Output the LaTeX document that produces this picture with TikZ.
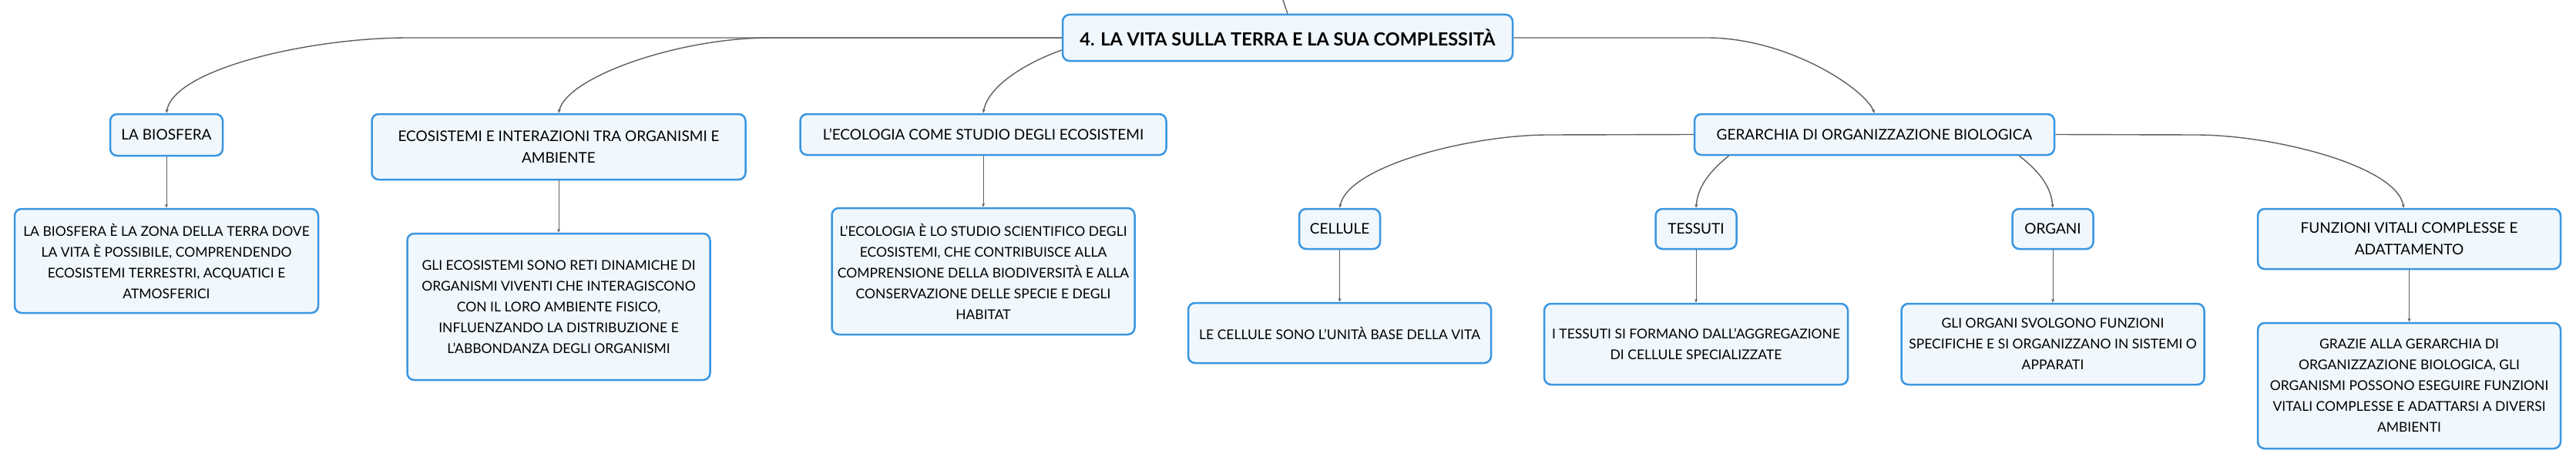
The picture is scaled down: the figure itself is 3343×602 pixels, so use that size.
\documentclass[tikz,border=0pt]{standalone}
\usepackage{fontspec}
\setmainfont{Lato}
\usetikzlibrary{arrows.meta}
\definecolor{mmblue}{RGB}{58,150,224}
\definecolor{mmfill}{RGB}{240,247,253}
\definecolor{mmgray}{RGB}{95,95,95}
\newcommand{\mmtext}{\fontsize{17.5}{27}\selectfont}
\newcommand{\mmhead}{\fontsize{19}{28}\selectfont}

\begin{document}
\begin{tikzpicture}[x=1pt, y=-1pt,
    topic/.style={draw=mmblue, line width=2.5pt, rounded corners=9pt, fill=mmfill, align=center, inner sep=0pt, font=\mmtext},
    head/.style={topic, font=\mmhead},
    link/.style={draw=mmgray, line width=1.4pt, -{Stealth[length=5pt,width=4pt]}},
    leaf/.style={draw=mmgray, line width=1pt, -{Stealth[length=5pt,width=4pt]}}]
  \useasboundingbox (0,0) rectangle (3343,602);
  % Central topic
  \node[topic, font=\fontsize{23.5}{28}\selectfont\bfseries, minimum width=584pt, minimum height=60pt] (root) at (1671,49) {4. LA VITA SULLA TERRA E LA SUA COMPLESSITÀ};
  \coordinate (up) at (1665,0);
  \draw[mmgray, line width=1.4pt] (root.north) -- (up);
  % Main topics
  \node[head, minimum width=146pt, minimum height=54pt] (bio) at (216,175) {LA BIOSFERA};
  \node[head, minimum width=485pt, minimum height=85pt] (eco) at (725,190.5) {ECOSISTEMI E INTERAZIONI TRA ORGANISMI E\\AMBIENTE};
  \node[head, minimum width=475pt, minimum height=53pt] (ecl) at (1276,174.5) {L'ECOLOGIA COME STUDIO DEGLI ECOSISTEMI};
  \node[head, minimum width=467pt, minimum height=53pt] (ger) at (2432.5,174.5) {GERARCHIA DI ORGANIZZAZIONE BIOLOGICA};
  % Levels of organisation
  \foreach \n/\x/\lbl in {cel/1738.5/CELLULE, tes/2201/TESSUTI, org/2664/ORGANI} {
    \node[head, minimum width=105pt, minimum height=52pt] (\n) at (\x,297) {\lbl};
  }
  \node[head, minimum width=393pt, minimum height=78pt] (fun) at (3126.5,310) {FUNZIONI VITALI COMPLESSE E\\ADATTAMENTO};
  % Descriptions
  \node[topic, minimum width=394pt, minimum height=135pt] (dbio) at (216,338.5) {LA BIOSFERA È LA ZONA DELLA TERRA DOVE\\LA VITA È POSSIBILE, COMPRENDENDO\\ECOSISTEMI TERRESTRI, ACQUATICI E\\ATMOSFERICI};
  \node[topic, minimum width=393pt, minimum height=190pt] (deco) at (725,398) {GLI ECOSISTEMI SONO RETI DINAMICHE DI\\ORGANISMI VIVENTI CHE INTERAGISCONO\\CON IL LORO AMBIENTE FISICO,\\INFLUENZANDO LA DISTRIBUZIONE E\\L'ABBONDANZA DEGLI ORGANISMI};
  \node[topic, minimum width=393pt, minimum height=164pt] (decl) at (1276,352) {L'ECOLOGIA È LO STUDIO SCIENTIFICO DEGLI\\ECOSISTEMI, CHE CONTRIBUISCE ALLA\\COMPRENSIONE DELLA BIODIVERSITÀ E ALLA\\CONSERVAZIONE DELLE SPECIE E DEGLI\\HABITAT};
  \node[topic, minimum width=393pt, minimum height=78pt] (dcel) at (1738.5,432) {LE CELLULE SONO L'UNITÀ BASE DELLA VITA};
  \node[topic, minimum width=394pt, minimum height=105pt] (dtes) at (2201,446.5) {I TESSUTI SI FORMANO DALL'AGGREGAZIONE\\DI CELLULE SPECIALIZZATE};
  \node[topic, minimum width=393pt, minimum height=105pt] (dorg) at (2664,446.5) {GLI ORGANI SVOLGONO FUNZIONI\\SPECIFICHE E SI ORGANIZZANO IN SISTEMI O\\APPARATI};
  \node[topic, minimum width=393pt, minimum height=163pt] (dfun) at (3126.5,500.5) {GRAZIE ALLA GERARCHIA DI\\ORGANIZZAZIONE BIOLOGICA, GLI\\ORGANISMI POSSONO ESEGUIRE FUNZIONI\\VITALI COMPLESSE E ADATTARSI A DIVERSI\\AMBIENTI};
  % Branches from the central topic
  \draw[link] (root.west) -- (530,49) .. controls (400,49) and (225,90) .. (bio.north);
  \draw[link] (root.west) -- (1000,49) .. controls (880,49) and (735,100) .. (eco.north);
  \draw[link] ([yshift=-16pt]root.west) .. controls (1330,82) and (1282,112) .. (ecl.north);
  \draw[link] (root.east) -- (2215,49) .. controls (2320,49) and (2420,115) .. (ger.north);
  % Branches from the hierarchy
  \draw[link] (ger.west) -- (2009,175) .. controls (1909,175) and (1749,215) .. (cel.north);
  \draw[link] ([xshift=-189pt]ger.south) .. controls (2215,225) and (2203,245) .. (tes.north);
  \draw[link] ([xshift=188pt]ger.south) .. controls (2650,225) and (2662,245) .. (org.north);
  \draw[link] (ger.east) -- (2850,175) .. controls (2950,175) and (3110,215) .. ([xshift=-7pt]fun.north);
  % Topics to descriptions
  \foreach \n in {bio, eco, ecl, cel, tes, org, fun} {
    \draw[leaf] (\n.south) -- (d\n.north);
  }
\end{tikzpicture}
\end{document}
